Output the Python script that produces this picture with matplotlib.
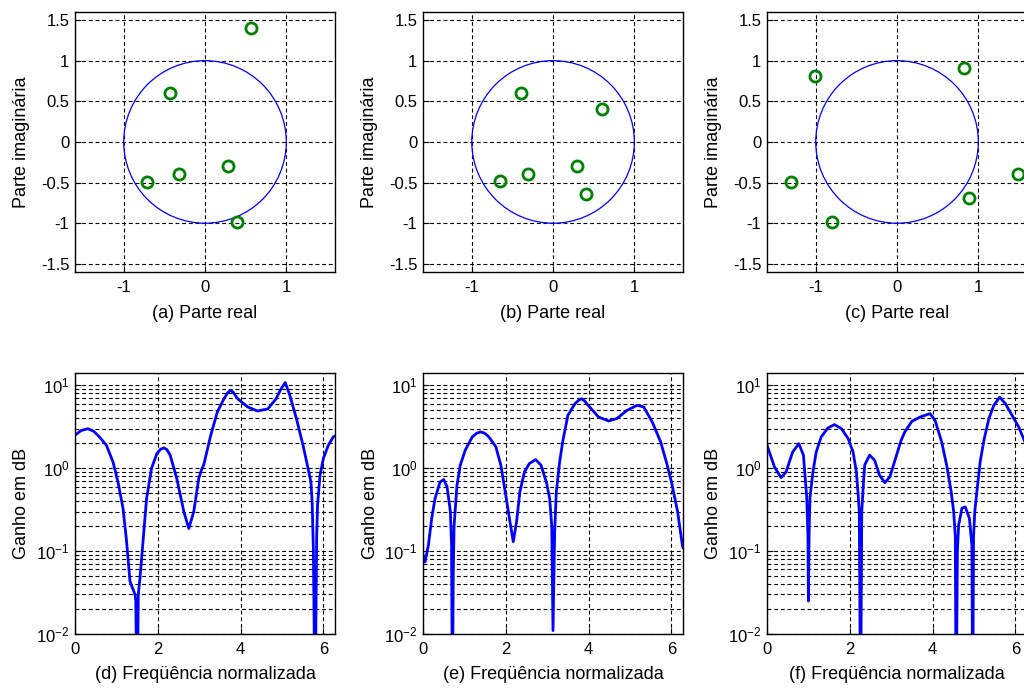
import numpy as np
import matplotlib
matplotlib.use("Agg")
import matplotlib.pyplot as plt
from matplotlib.patches import Circle
from matplotlib.ticker import LogLocator, NullFormatter

plt.rcParams["font.family"] = ["Liberation Sans", "DejaVu Sans"]
plt.rcParams["font.size"] = 12
plt.rcParams["mathtext.default"] = "regular"
plt.rcParams["axes.unicode_minus"] = False

# ── Zeros (real, imag) ────────────────────────────────────────────────────
zeros_a_re = [0.57, -0.43, -0.71, -0.32, 0.28, 0.39]
zeros_a_im = [1.40, 0.60, -0.49, -0.39, -0.29, -0.98]
zeros_b_re = [-0.39, 0.60, 0.30, -0.31, -0.65, 0.40]
zeros_b_im = [0.60, 0.40, -0.29, -0.39, -0.48, -0.64]
zeros_c_re = [-1.01, 0.83, -1.30, -0.80, 0.88, 1.49]
zeros_c_im = [0.81, 0.91, -0.49, -0.99, -0.69, -0.40]

# ── Gain curves (normalised frequency, gain) ──────────────────────────────
w_d = [0.0, 0.15, 0.31, 0.45, 0.59, 0.76, 0.92, 1.04, 1.16, 1.24, 1.33, 1.45, 1.47, 1.50,
       1.53, 1.57, 1.65, 1.73, 1.85, 1.98, 2.07, 2.15, 2.22, 2.30, 2.46, 2.63, 2.75, 2.87,
       2.99, 3.07, 3.11, 3.28, 3.44, 3.60, 3.68, 3.75, 3.82, 3.93, 4.17, 4.41, 4.66, 4.86,
       4.98, 5.08, 5.19, 5.35, 5.51, 5.63, 5.70, 5.73, 5.76, 5.80, 5.84, 5.86,
       5.92, 6.00, 6.12, 6.24, 6.283]
g_d = [2.5, 2.85, 3.0, 2.8, 2.39, 1.89, 1.19, 0.68, 0.33, 0.142, 0.043, 0.030, 0.025, 0.001,
       0.03, 0.047, 0.142, 0.43, 1.0, 1.5, 1.7, 1.76, 1.68, 1.44, 0.75, 0.30, 0.187, 0.30,
       0.75, 1.0, 1.09, 2.5, 4.77, 6.9, 8.0, 8.7, 8.3, 6.9, 5.5, 4.9, 5.2, 6.9,
       9.1, 10.8, 7.6, 3.97, 1.89, 1.0, 0.68, 0.39, 0.1, 0.001, 0.156, 0.36,
       0.82, 1.31, 1.89, 2.39, 2.45]

w_e = [0.0, 0.05, 0.13, 0.21, 0.29, 0.41, 0.50, 0.58, 0.64, 0.66, 0.69, 0.71,
       0.73, 0.75, 0.82, 0.90, 1.02, 1.19, 1.30, 1.39, 1.49, 1.59, 1.76, 1.88, 2.00, 2.10,
       2.18, 2.26, 2.34, 2.45, 2.57, 2.72, 2.85, 2.98, 3.06, 3.11, 3.14, 3.18,
       3.22, 3.30, 3.38, 3.50, 3.67, 3.76, 3.83, 3.90, 3.99, 4.24, 4.48, 4.68, 4.93, 5.17,
       5.33, 5.54, 5.74, 5.90, 6.02, 6.15, 6.27, 6.283]
g_e = [0.09, 0.074, 0.118, 0.248, 0.43, 0.68, 0.73, 0.6, 0.36, 0.3, 0.12, 0.001,
       0.05, 0.2, 0.62, 1.09, 1.65, 2.39, 2.65, 2.74, 2.65, 2.39, 1.81, 1.09, 0.47, 0.226,
       0.13, 0.226, 0.52, 0.90, 1.14, 1.27, 1.09, 0.68, 0.43, 0.2, 0.011, 0.17,
       0.52, 1.19, 2.17, 4.35, 6.0, 6.6, 6.9, 6.5, 5.74, 4.15, 3.72, 3.97, 5.0, 5.74,
       5.5, 3.6, 2.08, 1.09, 0.62, 0.30, 0.113, 0.11]

w_f = [0.0, 0.18, 0.34, 0.46, 0.62, 0.77, 0.88, 0.96, 0.99, 1.00, 1.02, 1.04,
       1.11, 1.19, 1.31, 1.47, 1.63, 1.80, 1.96, 2.08, 2.16, 2.20, 2.23, 2.26,
       2.29, 2.32, 2.36, 2.48, 2.60, 2.72, 2.85, 2.97, 3.13, 3.24, 3.33, 3.50,
       3.70, 3.94, 4.06, 4.22, 4.34, 4.45, 4.51, 4.55, 4.57, 4.60, 4.63, 4.71,
       4.79, 4.89, 4.95, 4.97, 4.99, 5.02, 5.07, 5.15, 5.24, 5.36, 5.48, 5.62,
       5.76, 5.92, 6.08, 6.25, 6.283]
g_f = [1.9, 1.04, 0.77, 0.9, 1.57, 1.98, 1.44, 0.45, 0.15, 0.025, 0.2, 0.45,
       0.9, 1.57, 2.39, 3.06, 3.36, 3.0, 2.28, 1.57, 0.9, 0.5, 0.3, 0.001,
       0.3, 0.55, 1.09, 1.44, 1.25, 0.82, 0.67, 0.79, 1.44, 2.17, 2.74, 3.68,
       4.15, 4.56, 3.79, 2.08, 1.09, 0.52, 0.30, 0.15, 0.001, 0.1, 0.206, 0.33,
       0.342, 0.248, 0.118, 0.001, 0.15, 0.30, 0.52, 1.19, 2.17, 3.97, 5.74, 7.2,
       6.0, 4.35, 3.15, 1.98, 1.9]

zplane_labels = ["(a) Parte real", "(b) Parte real", "(c) Parte real"]
gain_labels = ["(d) Freqüência normalizada", "(e) Freqüência normalizada",
               "(f) Freqüência normalizada"]

MATLAB_GREEN = (0.0, 0.5, 0.0)
GRID = dict(color="black", linestyle=(0, (3.5, 2.5)), linewidth=0.8)

fig = plt.figure(figsize=(10.24, 6.88), dpi=100)
lefts = [0.0732, 0.4131, 0.749]
W, H = 0.254, 0.378


def style_axes(ax):
    for s in ax.spines.values():
        s.set_linewidth(1.0)
    ax.tick_params(direction="in", length=4, width=0.8, labelsize=12)
    ax.tick_params(axis="x", pad=6)
    ax.tick_params(axis="y", pad=4)
    ax.set_axisbelow(True)


# ── Top row: zero locations against the unit circle ───────────────────────
zeros = [(zeros_a_re, zeros_a_im), (zeros_b_re, zeros_b_im), (zeros_c_re, zeros_c_im)]
for left, (re, im), lbl in zip(lefts, zeros, zplane_labels):
    ax = fig.add_axes([left, 0.6047, W, H])
    ax.add_patch(Circle((0, 0), 1.0, fill=False, color="blue", lw=0.9))
    ax.plot(re, im, "o", ms=8, mfc="none", mec=MATLAB_GREEN, mew=2.0, ls="none")
    ax.set_xlim(-1.6, 1.6)
    ax.set_ylim(-1.6, 1.6)
    ax.set_xticks([-1, 0, 1])
    ax.set_xticklabels(["-1", "0", "1"])
    ax.set_yticks([-1.5, -1, -0.5, 0, 0.5, 1, 1.5])
    ax.set_yticklabels(["-1.5", "-1", "-0.5", "0", "0.5", "1", "1.5"])
    ax.grid(True, **GRID)
    ax.set_xlabel(lbl, fontsize=13, labelpad=7)
    ax.set_ylabel("Parte imaginária", fontsize=13, labelpad=8)
    style_axes(ax)

# ── Bottom row: gain of each filter ───────────────────────────────────────
curves = [(w_d, g_d), (w_e, g_e), (w_f, g_f)]
for left, (w, g), lbl in zip(lefts, curves, gain_labels):
    ax = fig.add_axes([left, 0.0785, W, 0.379])
    ax.semilogy(w, g, color="blue", lw=2.0)
    ax.set_xlim(0, 2 * np.pi)
    ax.set_ylim(1e-2, 14)
    ax.set_xticks([0, 2, 4, 6])
    ax.yaxis.set_major_locator(LogLocator(base=10, numticks=10))
    ax.yaxis.set_minor_locator(LogLocator(base=10, subs=np.arange(2, 10), numticks=20))
    ax.yaxis.set_minor_formatter(NullFormatter())
    ax.grid(True, which="both", **GRID)
    ax.set_xlabel(lbl, fontsize=13, labelpad=6)
    ax.set_ylabel("Ganho em dB", fontsize=13, labelpad=4)
    style_axes(ax)
    ax.tick_params(which="minor", direction="in", length=2)

fig.savefig("out.png", dpi=100)
